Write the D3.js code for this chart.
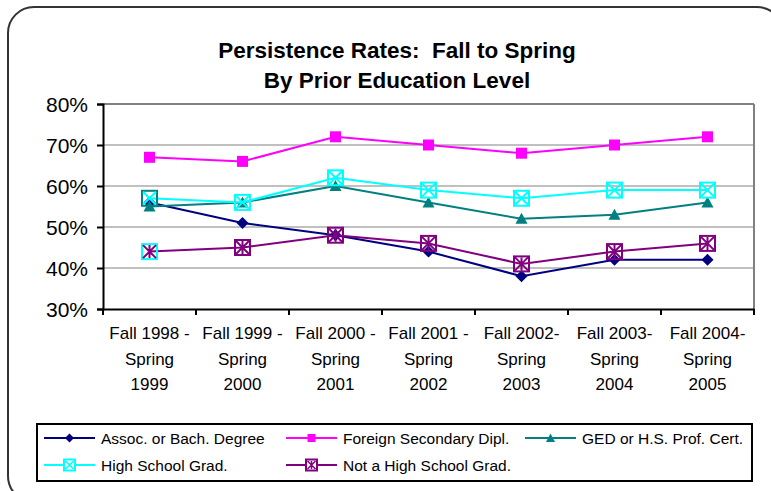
<!DOCTYPE html>
<html>
<head>
<meta charset="utf-8">
<script src="https://cdn.jsdelivr.net/npm/d3@7"></script>
<style>
  body { margin: 0; background: #fff; }
  svg { font-family: "Liberation Sans", Arial, sans-serif; }
</style>
</head>
<body>
<div id="chart"></div>
<script>
const categories = [
  ["Fall 1998 -", "Spring", "1999"],
  ["Fall 1999 -", "Spring", "2000"],
  ["Fall 2000 -", "Spring", "2001"],
  ["Fall 2001 -", "Spring", "2002"],
  ["Fall 2002-", "Spring", "2003"],
  ["Fall 2003-", "Spring", "2004"],
  ["Fall 2004-", "Spring", "2005"]
];
const assocBach = [56, 51, 48, 44, 38, 42, 42];
const foreignDipl = [67, 66, 72, 70, 68, 70, 72];
const gedCert = [55, 56, 60, 56, 52, 53, 56];
const hsGrad = [57, 56, 62, 59, 57, 59, 59];
const notHsGrad = [44, 45, 48, 46, 41, 44, 46];
const yTicks = [30, 40, 50, 60, 70, 80];

const series = [
  { name: "Assoc. or Bach. Degree", values: assocBach, color: "#000080", marker: "diamond" },
  { name: "Foreign Secondary Dipl.", values: foreignDipl, color: "#ff00ff", marker: "square" },
  { name: "GED or H.S. Prof. Cert.", values: gedCert, color: "#008080", marker: "triangle" },
  { name: "High School Grad.", values: hsGrad, color: "#00ffff", marker: "boxX", firstStroke: "#008080" },
  { name: "Not a High School Grad.", values: notHsGrad, color: "#800080", marker: "boxStar", firstStroke: "#00ffff" }
];

const W = 771, H = 491;
const svg = d3.select("#chart").append("svg").attr("width", W).attr("height", H);

// outer rounded frame
svg.append("rect")
  .attr("x", 8).attr("y", 7).attr("width", 775).attr("height", 495)
  .attr("rx", 26).attr("ry", 26)
  .attr("fill", "none").attr("stroke", "#333").attr("stroke-width", 2);

// title
svg.append("text").attr("x", 397).attr("y", 58).attr("text-anchor", "middle")
  .style("font-size", "22.5px").style("font-weight", "bold").style("white-space", "pre")
  .text("Persistence Rates:  Fall to Spring");
svg.append("text").attr("x", 397).attr("y", 88).attr("text-anchor", "middle")
  .style("font-size", "22.5px").style("font-weight", "bold")
  .text("By Prior Education Level");

const plot = { left: 103, right: 754, top: 104, bottom: 309 };

const x = d3.scaleBand()
  .domain(d3.range(categories.length))
  .range([plot.left, plot.right]);

const y = d3.scaleLinear()
  .domain([30, 80])
  .range([plot.bottom, plot.top]);

// gridlines
svg.append("g").selectAll("line")
  .data(yTicks.filter(t => t > 30))
  .enter().append("line")
  .attr("x1", plot.left).attr("x2", plot.right)
  .attr("y1", d => y(d)).attr("y2", d => y(d))
  .attr("stroke", d => d === 80 ? "#808080" : "#c0c0c0")
  .attr("stroke-width", 2);

// plot right border
svg.append("line")
  .attr("x1", plot.right).attr("x2", plot.right)
  .attr("y1", plot.top).attr("y2", plot.bottom)
  .attr("stroke", "#808080").attr("stroke-width", 2);

// y axis
const yAxis = svg.append("g")
  .attr("transform", `translate(${plot.left},0)`)
  .call(d3.axisLeft(y).tickValues(yTicks).tickFormat(d => d + "%").tickSize(6).tickPadding(9));
yAxis.select(".domain").attr("stroke", "#000").attr("stroke-width", 2);
yAxis.selectAll(".tick line").attr("stroke", "#000").attr("stroke-width", 2);
yAxis.selectAll(".tick text").style("font-size", "21px").attr("fill", "#000").attr("dy", "0.36em");

// x axis
const xAxis = svg.append("g")
  .attr("transform", `translate(0,${plot.bottom})`)
  .call(d3.axisBottom(x).tickSize(0).tickFormat(""));
xAxis.select(".domain").attr("stroke", "#000").attr("stroke-width", 2);
const bounds = d3.range(categories.length + 1).map(i => i < categories.length ? x(i) : x(i - 1) + x.bandwidth());
svg.append("g").selectAll("line").data(bounds).enter().append("line")
  .attr("x1", d => d).attr("x2", d => d)
  .attr("y1", plot.bottom).attr("y2", plot.bottom + 6)
  .attr("stroke", "#000").attr("stroke-width", 2);

const labels = svg.append("g").selectAll("text")
  .data(categories).enter().append("text")
  .attr("text-anchor", "middle")
  .style("font-size", "17px")
  .attr("transform", (d, i) => `translate(${x(i) + x.bandwidth() / 2},0)`);
labels.selectAll("tspan").data(d => d).enter().append("tspan")
  .attr("x", 0)
  .attr("y", (d, j) => 339 + j * 25.5)
  .text(d => d);

// marker drawing
function drawMarker(g, type, color, stroke) {
  if (type === "diamond") {
    g.append("path").attr("d", "M0,-6L6,0L0,6L-6,0Z").attr("fill", color);
  } else if (type === "square") {
    g.append("rect").attr("x", -5.5).attr("y", -5.5).attr("width", 11).attr("height", 11).attr("fill", color);
  } else if (type === "triangle") {
    g.append("path").attr("d", "M0,-6L6,5L-6,5Z").attr("fill", color);
  } else {
    const s = 7.5;
    g.append("rect").attr("x", -s).attr("y", -s).attr("width", 2 * s).attr("height", 2 * s)
      .attr("fill", "none").attr("stroke", stroke).attr("stroke-width", 2);
    const i = s - 1;
    g.append("path").attr("d", `M${-i},${-i}L${i},${i}M${i},${-i}L${-i},${i}` + (type === "boxStar" ? `M0,${-i}L0,${i}` : ""))
      .attr("stroke", color).attr("stroke-width", 2).attr("fill", "none");
  }
}

const line = d3.line()
  .x((d, i) => x(i) + x.bandwidth() / 2)
  .y(d => y(d));

series.forEach(s => {
  const g = svg.append("g");
  g.append("path").datum(s.values)
    .attr("d", line)
    .attr("fill", "none").attr("stroke", s.color).attr("stroke-width", 2);
  g.selectAll("g.m").data(s.values).enter().append("g")
    .attr("class", "m")
    .attr("transform", (d, i) => `translate(${x(i) + x.bandwidth() / 2},${y(d)})`)
    .each(function (d, i) {
      drawMarker(d3.select(this), s.marker, s.color, i === 0 && s.firstStroke ? s.firstStroke : s.color);
    });
});

// legend
svg.append("rect")
  .attr("x", 37).attr("y", 424).attr("width", 715).attr("height", 57)
  .attr("fill", "#fff").attr("stroke", "#000").attr("stroke-width", 2);

const legendPos = [
  { x: 44, y: 438 }, { x: 286, y: 438 }, { x: 525, y: 438 },
  { x: 44, y: 465 }, { x: 286, y: 465 }
];
series.forEach((s, i) => {
  const p = legendPos[i];
  const g = svg.append("g").attr("transform", `translate(${p.x},${p.y})`);
  g.append("line").attr("x1", 0).attr("x2", 51).attr("stroke", s.color).attr("stroke-width", 2);
  const m = g.append("g").attr("transform", "translate(25.5,0)");
  if (s.marker === "boxX" || s.marker === "boxStar") {
    const sz = 5.5;
    m.append("rect").attr("x", -sz).attr("y", -sz).attr("width", 2 * sz).attr("height", 2 * sz)
      .attr("fill", "#fff").attr("stroke", s.color).attr("stroke-width", 2);
    m.append("path").attr("d", `M-4,-4L4,4M4,-4L-4,4` + (s.marker === "boxStar" ? "M0,-4L0,4" : ""))
      .attr("stroke", s.color).attr("stroke-width", 1.5);
  } else if (s.marker === "diamond") {
    m.append("path").attr("d", "M0,-4.5L4.5,0L0,4.5L-4.5,0Z").attr("fill", s.color);
  } else if (s.marker === "square") {
    m.append("rect").attr("x", -4).attr("y", -4).attr("width", 8).attr("height", 8).attr("fill", s.color);
  } else {
    m.append("path").attr("d", "M0,-4.5L4.5,4L-4.5,4Z").attr("fill", s.color);
  }
  g.append("text").attr("x", 57).attr("dy", "0.36em")
    .style("font-size", "15.5px").text(s.name);
});
</script>
</body>
</html>
